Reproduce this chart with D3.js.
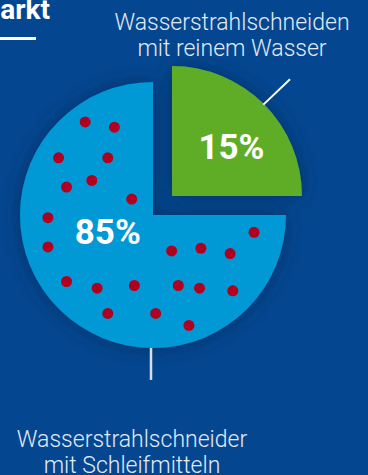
<!DOCTYPE html>
<html lang="de">
  <head>
    <meta charset="utf-8">
    <title>Wasserstrahlschneiden Markt</title>
    <style>
      html, body { margin: 0; padding: 0; background: #044790; }
      svg { display: block; }
    </style>
  </head>
  <body>
    <svg width="368" height="475"></svg>
    <script src="https://cdn.jsdelivr.net/npm/d3@7"></script>
    <script>
      // shares printed on the chart
      const categories = ['Wasserstrahlschneider mit Schleifmitteln', 'Wasserstrahlschneiden mit reinem Wasser'];
      const shareLabels = ['85%', '15%'];
      // slice sizes as drawn in the infographic (three quarters / one quarter)
      const sliceValues = [75, 25];
      const labelLines = [
        ['Wasserstrahlschneider', 'mit Schleifmitteln'],
        ['Wasserstrahlschneiden', 'mit reinem Wasser']
      ];
      // red dots on the big slice, in units of the radius from the centre
      const dotsX = [-0.51, -0.29, -0.71, -0.34, -0.65, -0.46, -0.16, -0.79, -0.79, 0.14, 0.36,
                     0.58, 0.76, -0.65, -0.42, -0.14, 0.19, 0.35, 0.60, -0.34, 0.02, 0.27];
      const dotsY = [-0.70, -0.66, -0.43, -0.43, -0.21, -0.26, -0.12, 0.02, 0.24, 0.27, 0.25,
                     0.29, 0.13, 0.50, 0.55, 0.53, 0.53, 0.55, 0.57, 0.74, 0.74, 0.83];

      const colours = ['#0099d5', '#5fad28'];
      const svg = d3.select('svg');

      const defs = svg.append('defs');
      const shadow = defs.append('filter').attr('id', 'shadow')
        .attr('x', '-30%').attr('y', '-30%').attr('width', '160%').attr('height', '160%');
      shadow.append('feDropShadow')
        .attr('dx', 0).attr('dy', 0).attr('stdDeviation', 10)
        .attr('flood-color', '#02295e').attr('flood-opacity', 0.8);

      // title, cut at the left edge
      svg.append('text')
        .attr('x', 50).attr('y', 19)
        .attr('text-anchor', 'end')
        .attr('fill', '#fff')
        .attr('font-family', 'Roboto, sans-serif')
        .attr('font-weight', 700)
        .attr('font-size', 28)
        .text('Markt');
      svg.append('rect')
        .attr('x', 0).attr('y', 37).attr('width', 36).attr('height', 3)
        .attr('fill', '#fff');

      const cx = 153, cy = 215, r = 133;
      const pie = d3.pie().sort(null).startAngle(0).endAngle(2 * Math.PI);
      const arcs = pie(sliceValues.slice().reverse()).reverse(); // green first, from 12 o'clock
      const arc = d3.arc().innerRadius(0);

      const offset = 19 * Math.SQRT2;
      const g = svg.append('g').attr('filter', 'url(#shadow)');
      const slices = g.selectAll('g.slice')
        .data(arcs).enter()
        .append('g').attr('class', 'slice')
        .attr('transform', (d, i) => {
          const mid = (d.startAngle + d.endAngle) / 2;
          const o = i === 1 ? offset : 0;
          return `translate(${cx + o * Math.sin(mid)},${cy - o * Math.cos(mid)})`;
        });
      slices.append('path')
        .attr('d', (d, i) => arc.outerRadius(i === 1 ? 130 : r)(d))
        .attr('fill', (d, i) => colours[i]);

      // dots
      const sx = d3.scaleLinear().domain([-1, 1]).range([cx - r, cx + r]);
      const sy = d3.scaleLinear().domain([-1, 1]).range([cy - r, cy + r]);
      svg.append('g').selectAll('circle')
        .data(dotsX).enter()
        .append('circle')
        .attr('cx', d => sx(d))
        .attr('cy', (d, i) => sy(dotsY[i]))
        .attr('r', 5.5)
        .attr('fill', '#b1001f');

      // percent labels
      const labelPos = [[-0.34, 0.13], [0.59, -0.51]];
      svg.append('g').selectAll('text')
        .data(shareLabels).enter()
        .append('text')
        .attr('x', (d, i) => sx(labelPos[i][0]))
        .attr('y', (d, i) => sy(labelPos[i][1]))
        .attr('text-anchor', 'middle')
        .attr('dominant-baseline', 'central')
        .attr('fill', '#fff')
        .attr('font-family', 'Roboto, sans-serif')
        .attr('font-weight', 700)
        .attr('font-size', 35)
        .text(d => d);

      // leader lines
      svg.append('line')
        .attr('x1', sx(0.83)).attr('y1', sy(-0.83))
        .attr('x2', sx(1.03)).attr('y2', sy(-1.02))
        .attr('stroke', '#fff').attr('stroke-width', 2);
      svg.append('line')
        .attr('x1', sx(-0.015)).attr('y1', sy(1.0))
        .attr('x2', sx(-0.015)).attr('y2', sy(1.24))
        .attr('stroke', '#d8dde6').attr('stroke-width', 2.5);

      // category labels
      const labelAnchor = [[132, 447], [232, 30]];
      labelLines.forEach((lines, i) => {
        const t = svg.append('text')
          .attr('text-anchor', 'middle')
          .attr('fill', '#e2eaf4')
          .attr('font-family', 'Roboto, sans-serif')
          .attr('font-weight', 300)
          .attr('font-size', 23);
        t.selectAll('tspan').data(lines).enter()
          .append('tspan')
          .attr('x', labelAnchor[i][0])
          .attr('y', (d, j) => labelAnchor[i][1] + j * 26)
          .text(d => d);
      });
    </script>
  </body>
</html>
